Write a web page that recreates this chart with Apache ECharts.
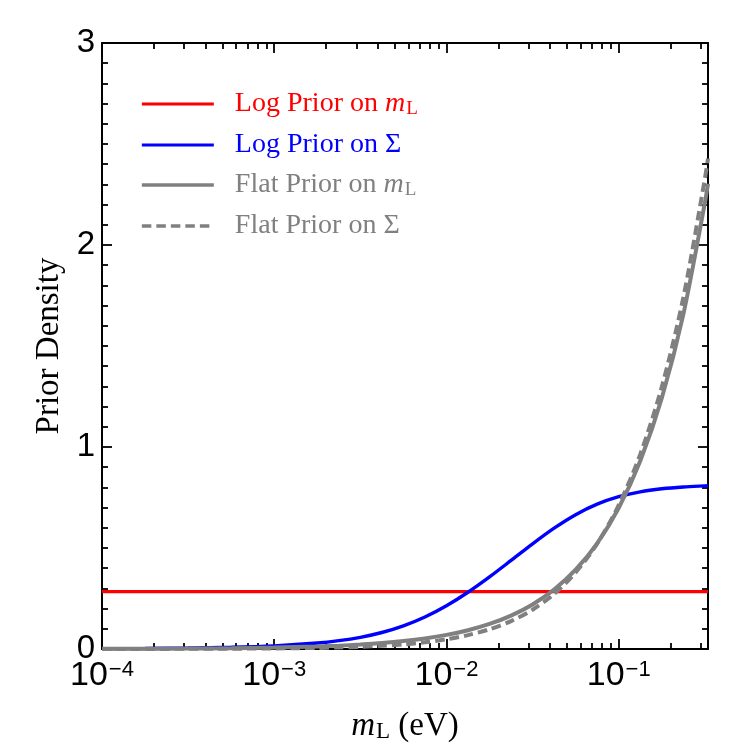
<!DOCTYPE html>
<html>
<head>
<meta charset="utf-8">
<script src="https://cdn.jsdelivr.net/npm/echarts@6/dist/echarts.min.js"></script>
<style>html,body{margin:0;padding:0;background:#fff}#c{width:750px;height:750px}</style>
</head>
<body>
<div id="c"></div>
<script>
// ---- data ----
const mL = [0.0001, 0.00017783, 0.00031623, 0.00056234, 0.001, 0.0017783, 0.0023714, 0.0031623, 0.004217, 0.0056234, 0.0074989, 0.01, 0.013335, 0.017783, 0.023714, 0.031623, 0.04217, 0.056234, 0.074989, 0.1, 0.13335, 0.17783, 0.23714, 0.31623, 0.33];
const logPriorSigma = [0.0014, 0.0025, 0.0046, 0.0083, 0.0155, 0.0295, 0.0412, 0.0579, 0.0816, 0.1144, 0.1583, 0.2141, 0.2810, 0.3569, 0.4383, 0.5207, 0.5981, 0.6649, 0.7169, 0.7539, 0.7781, 0.7931, 0.8021, 0.8073, 0.8078];
const flatPriorML = [0.0007, 0.0012, 0.0022, 0.0039, 0.0070, 0.0124, 0.0166, 0.0221, 0.0294, 0.0392, 0.0523, 0.0698, 0.0931, 0.1241, 0.1655, 0.2207, 0.2943, 0.3925, 0.5234, 0.6980, 0.9307, 1.2412, 1.6551, 2.2072, 2.3033];
const flatPriorSigma = [0.0002, 0.0004, 0.0008, 0.0015, 0.0028, 0.0054, 0.0077, 0.0109, 0.0158, 0.0229, 0.0333, 0.0481, 0.0688, 0.0978, 0.1383, 0.1946, 0.2725, 0.3788, 0.5217, 0.7118, 0.9635, 1.2968, 1.7388, 2.3262, 2.4282];
const logPriorMLx = [0.0001, 0.33];
const logPriorML = [0.284, 0.284];
const seriesNames = ['Log Prior on mL', 'Log Prior on Σ', 'Flat Prior on mL', 'Flat Prior on Σ'];
const xMajorTicks = [0.0001, 0.001, 0.01, 0.1];
const xMinorTicks = [0.0002,0.0003,0.0004,0.0005,0.0006,0.0007,0.0008,0.0009,
  0.002,0.003,0.004,0.005,0.006,0.007,0.008,0.009,
  0.02,0.03,0.04,0.05,0.06,0.07,0.08,0.09,
  0.2,0.3];
const xMin = 0.0001, xMax = 0.33;
const yMin = 0, yMax = 3, yInterval = 1;

const zip = (xs, ys) => xs.map((x, i) => [x, ys[i]]);
const colors = ['#ff0000', '#0000ff', '#808080', '#808080'];
const widths = [3.3, 3.4, 4, 4];

const chart = echarts.init(document.getElementById('c'), null, {renderer: 'canvas'});
const gridRect = {left: 102, right: 42, top: 43, bottom: 101};
const tickStyle = {color: '#000', width: 1.8};
const expLabel = v => {
  const e = Math.round(Math.log10(v));
  return '{b|10}{s|' + (e < 0 ? '\u2212' : '') + Math.abs(e) + '}';
};
const legendFmt = name => {
  if (name.endsWith('mL')) return '{g|}{n|' + name.slice(0, -2) + '}{i|m}{s|L}';
  return '{g|}{n|' + name + '}';
};

const option = {
  backgroundColor: '#fff',
  animation: false,
  grid: [Object.assign({}, gridRect), Object.assign({}, gridRect)],
  legend: {
    orient: 'vertical', left: 135, top: 85,
    itemWidth: 72, itemHeight: 14, itemGap: 12,
    itemStyle: {opacity: 0},
    formatter: legendFmt,
    textStyle: {
      fontFamily: 'Liberation Serif', fontSize: 28,
      rich: {
        g: {width: 16, lineHeight: 30},
        n: {fontFamily: 'Liberation Serif', fontSize: 28, lineHeight: 30},
        i: {fontFamily: 'Liberation Serif', fontSize: 28, lineHeight: 30, fontStyle: 'italic'},
        s: {fontFamily: 'Liberation Serif', fontSize: 19, lineHeight: 22, verticalAlign: 'bottom', padding: [8, 0, 0, 1]}
      }
    },
    data: seriesNames.map((n, i) => ({name: n, textStyle: {color: colors[i]}, lineStyle: {width: widths[i] - 0.3}}))
  },
  xAxis: [
    {
      type: 'log', logBase: 10, gridIndex: 0, position: 'bottom', min: xMin, max: xMax,
      name: '{i|m}{s|L}{n| (eV)}', nameLocation: 'middle', nameGap: 60,
      nameTextStyle: {
        rich: {
          i: {fontFamily: 'Liberation Serif', fontSize: 33, fontStyle: 'italic', color: '#000'},
          s: {fontFamily: 'Liberation Serif', fontSize: 23, color: '#000', verticalAlign: 'bottom', padding: [11, 0, 0, 1]},
          n: {fontFamily: 'Liberation Serif', fontSize: 33, color: '#000'}
        }
      },
      axisLine: {show: true, onZero: false, lineStyle: {color: '#000', width: 2}},
      axisTick: {show: true, inside: true, length: 10, lineStyle: tickStyle, customValues: xMajorTicks},
      minorTick: {show: false},
      splitLine: {show: false},
      axisLabel: {
        customValues: xMajorTicks, margin: 10, formatter: expLabel, color: '#000',
        rich: {
          b: {fontFamily: 'Liberation Sans', fontSize: 34, color: '#000'},
          s: {fontFamily: 'Liberation Sans', fontSize: 22, color: '#000', verticalAlign: 'top', padding: [0, 0, 12, 1]}
        }
      }
    },
    {
      type: 'log', logBase: 10, gridIndex: 0, position: 'top', min: xMin, max: xMax,
      axisLine: {show: true, onZero: false, lineStyle: {color: '#000', width: 2}},
      axisTick: {show: true, inside: true, length: 10, lineStyle: tickStyle, customValues: xMajorTicks},
      axisLabel: {show: false}, splitLine: {show: false}
    },
    {
      type: 'log', logBase: 10, gridIndex: 1, position: 'bottom', min: xMin, max: xMax,
      axisLine: {show: false},
      axisTick: {show: true, inside: true, length: 6, lineStyle: tickStyle, customValues: xMinorTicks},
      axisLabel: {show: false}, splitLine: {show: false}
    },
    {
      type: 'log', logBase: 10, gridIndex: 1, position: 'top', min: xMin, max: xMax,
      axisLine: {show: false},
      axisTick: {show: true, inside: true, length: 6, lineStyle: tickStyle, customValues: xMinorTicks},
      axisLabel: {show: false}, splitLine: {show: false}
    }
  ],
  yAxis: [
    {
      type: 'value', gridIndex: 0, position: 'left', min: yMin, max: yMax, interval: yInterval,
      name: 'Prior Density', nameLocation: 'middle', nameGap: 36,
      nameTextStyle: {fontFamily: 'Liberation Serif', fontSize: 33, color: '#000'},
      axisLine: {show: true, onZero: false, lineStyle: {color: '#000', width: 2}},
      axisTick: {show: true, inside: true, length: 10, lineStyle: tickStyle},
      minorTick: {show: true, splitNumber: 10, length: 6, lineStyle: tickStyle},
      splitLine: {show: false},
      axisLabel: {fontFamily: 'Liberation Sans', fontSize: 33, color: '#000', margin: 7}
    },
    {
      type: 'value', gridIndex: 0, position: 'right', min: yMin, max: yMax, interval: yInterval,
      axisLine: {show: true, onZero: false, lineStyle: {color: '#000', width: 2}},
      axisTick: {show: true, inside: true, length: 10, lineStyle: tickStyle},
      minorTick: {show: true, splitNumber: 10, length: 6, lineStyle: tickStyle},
      splitLine: {show: false}, axisLabel: {show: false}
    },
    {
      type: 'value', gridIndex: 1, min: yMin, max: yMax, show: false
    }
  ],
  series: [
    {name: seriesNames[0], type: 'line', xAxisIndex: 0, yAxisIndex: 0, showSymbol: false, symbol: 'none',
     data: zip(logPriorMLx, logPriorML), lineStyle: {color: colors[0], width: widths[0]}, itemStyle: {color: colors[0]}},
    {name: seriesNames[1], type: 'line', xAxisIndex: 0, yAxisIndex: 0, showSymbol: false, symbol: 'none', smooth: 0.3,
     data: zip(mL, logPriorSigma), lineStyle: {color: colors[1], width: widths[1]}, itemStyle: {color: colors[1]}},
    {name: seriesNames[2], type: 'line', xAxisIndex: 0, yAxisIndex: 0, showSymbol: false, symbol: 'none', smooth: 0.3,
     data: zip(mL, flatPriorML), lineStyle: {color: colors[2], width: widths[2]}, itemStyle: {color: colors[2]}},
    {name: seriesNames[3], type: 'line', xAxisIndex: 0, yAxisIndex: 0, showSymbol: false, symbol: 'none', smooth: 0.3,
     data: zip(mL, flatPriorSigma), lineStyle: {color: colors[3], width: widths[3], type: [9.5, 5]}, itemStyle: {color: colors[3]}}
  ]
};
chart.setOption(option);
</script>
</body>
</html>
